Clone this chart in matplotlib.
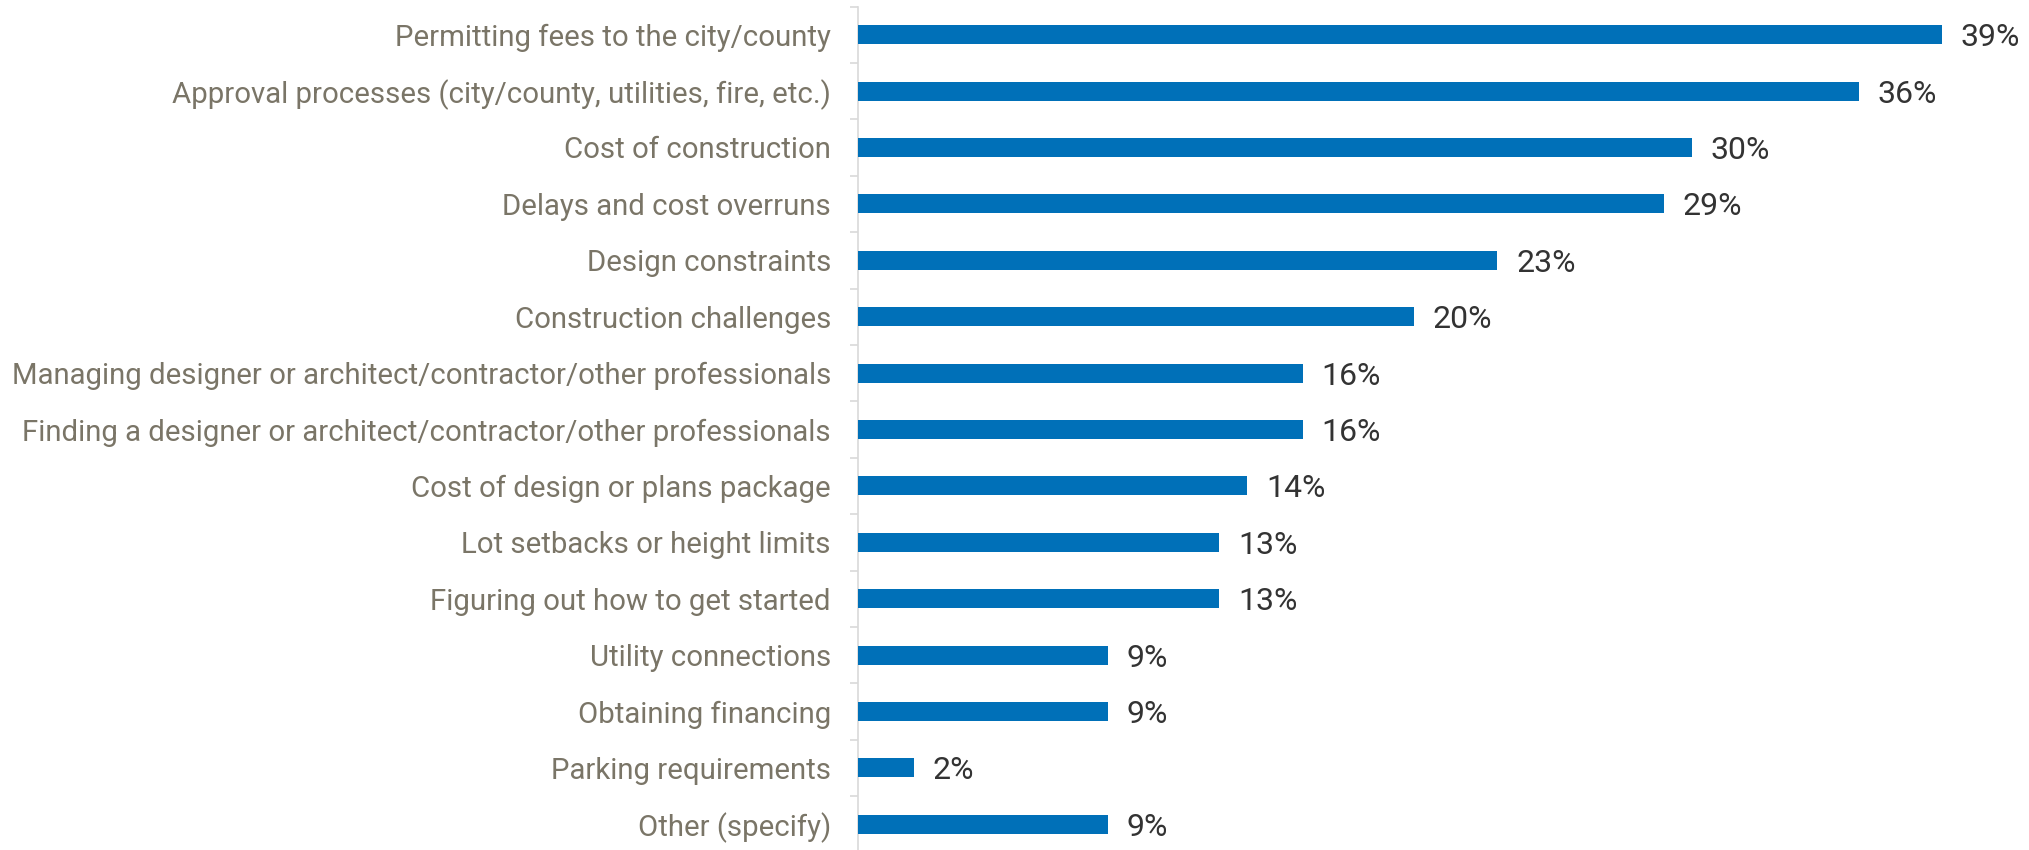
import matplotlib
matplotlib.use("Agg")
import matplotlib.pyplot as plt

categories = [
    "Permitting fees to the city/county",
    "Approval processes (city/county, utilities, fire, etc.)",
    "Cost of construction",
    "Delays and cost overruns",
    "Design constraints",
    "Construction challenges",
    "Managing designer or architect/contractor/other professionals",
    "Finding a designer or architect/contractor/other professionals",
    "Cost of design or plans package",
    "Lot setbacks or height limits",
    "Figuring out how to get started",
    "Utility connections",
    "Obtaining financing",
    "Parking requirements",
    "Other (specify)",
]
values = [39, 36, 30, 29, 23, 20, 16, 16, 14, 13, 13, 9, 9, 2, 9]

W, H = 2029, 850
DPI = 100
fig = plt.figure(figsize=(W / DPI, H / DPI), dpi=DPI)

x0, x1 = 858, 2000
top, bot = 6.5, 852.5
ax = fig.add_axes([x0 / W, (H - bot) / H, (x1 - x0) / W, (bot - top) / H])

bar_color = "#0070b8"
label_color = "#7a7567"
value_color = "#333333"
grid_color = "#d9d9d9"

ypos = list(range(len(categories)))
ax.barh(ypos, values, height=0.34, color=bar_color, zorder=3)

ax.set_ylim(len(categories) - 0.5, -0.5)
ax.set_xlim(0, (x1 - x0) / 27.8)

for y, v in zip(ypos, values):
    ax.annotate(f"{v}%", xy=(v, y), xytext=(13.5, 0), textcoords="offset points",
                ha="left", va="center_baseline", fontsize=23, color=value_color,
                family="Roboto")

ax.set_yticks(ypos)
ax.set_yticklabels(categories, fontsize=21.2, color=label_color, family="Roboto")
ax.tick_params(axis="y", which="major", length=0, pad=19.5)
ax.set_yticks([i - 0.5 for i in range(len(categories) + 1)], minor=True)
ax.tick_params(axis="y", which="minor", length=6, width=1.2, color=grid_color)
ax.set_xticks([])

for s in ["top", "right", "bottom"]:
    ax.spines[s].set_visible(False)
ax.spines["left"].set_color(grid_color)
ax.spines["left"].set_linewidth(1.2)

fig.savefig("out.png", dpi=DPI)
